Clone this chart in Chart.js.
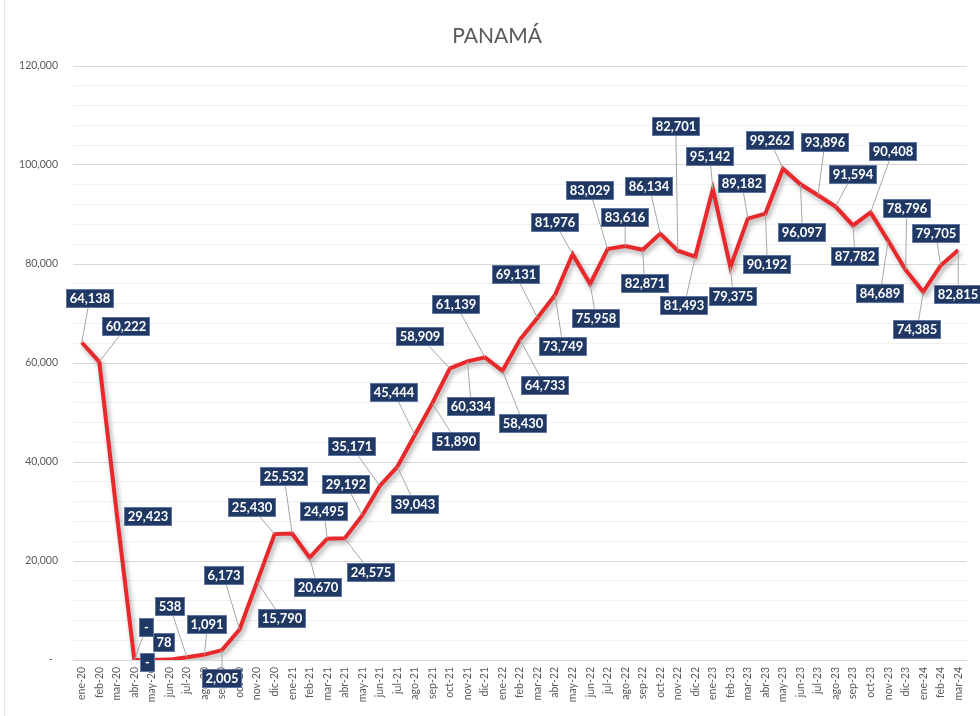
<!DOCTYPE html>
<html>
<head>
<meta charset="utf-8">
<script src="https://cdn.jsdelivr.net/npm/chart.js@4.4.1/dist/chart.umd.min.js"></script>
<style>
  html, body { margin: 0; padding: 0; background: #fff; }
  #wrap { width: 980px; height: 716px; position: relative; }
</style>
</head>
<body>
<div id="wrap"><canvas id="chart" width="980" height="716"></canvas></div>
<script>
const chartTitle = 'PANAMÁ'

const months = [
    'ene-20', 'feb-20', 'mar-20', 'abr-20', 'may-20', 'jun-20', 'jul-20', 'ago-20', 'sep-20', 'oct-20', 'nov-20', 'dic-20',
    'ene-21', 'feb-21', 'mar-21', 'abr-21', 'may-21', 'jun-21', 'jul-21', 'ago-21', 'sep-21', 'oct-21', 'nov-21', 'dic-21',
    'ene-22', 'feb-22', 'mar-22', 'abr-22', 'may-22', 'jun-22', 'jul-22', 'ago-22', 'sep-22', 'oct-22', 'nov-22', 'dic-22',
    'ene-23', 'feb-23', 'mar-23', 'abr-23', 'may-23', 'jun-23', 'jul-23', 'ago-23', 'sep-23', 'oct-23', 'nov-23', 'dic-23',
    'ene-24', 'feb-24', 'mar-24'
]

const visitors = [
    64138, 60222, 29423, 0, 0, 78, 538, 1091, 2005, 6173, 15790, 25430,
    25532, 20670, 24495, 24575, 29192, 35171, 39043, 45444, 51890, 58909, 60334, 61139,
    58430, 64733, 69131, 73749, 81976, 75958, 83029, 83616, 82871, 86134, 82701, 81493,
    95142, 79375, 89182, 90192, 99262, 96097, 93896, 91594, 87782, 90408, 84689, 78796,
    74385, 79705, 82815
]

const yMin = 0
const yMax = 120000
const yMinorStep = 4000
const yMajorStep = 20000

// where each value box sits, relative to its point (px)
const labelOffsets = [
    [8, -44], [27, -35], [31, 2], [12, -33], [-4, 2], [-5, -17], [-17, -51], [3, -30], [0, 28], [-16, -54], [25, 37], [-23, -27],
    [-8, -57], [8, 30], [-3, -27], [26, 34], [-16, -31], [-28, -39], [18, 38], [-21, -43], [24, 38], [-30, -32], [4, 45], [-29, -53],
    [21, 53], [25, 46], [-22, -43], [8, 52], [-18, -32], [6, 34], [-18, -59], [0, -29], [2, 34], [-11, -47], [-2, -124], [-11, 49],
    [-3, -33], [3, 29], [-6, -35], [2, 51], [-13, -28], [2, 48], [7, -53], [17, -32], [2, 31], [22, -61], [-8, 53], [1, -61],
    [-6, 38], [-5, -32], [0, 44]
]

const TEXT_GREY = '#595959'
const LINE_RED = '#E8282B'
const BOX_BLUE = '#203864'

function fmt(v) {
    return v === 0 ? '-' : v.toLocaleString('en-US')
}

const titlePlugin = {
    id: 'titleText',
    afterDraw(chart) {
        const ctx = chart.ctx
        ctx.save()
        ctx.font = '21px Lato'
        ctx.fillStyle = TEXT_GREY
        ctx.textAlign = 'center'
        ctx.textBaseline = 'middle'
        ctx.fillText(chartTitle, 497, 36)
        // faint chart border on the left
        ctx.strokeStyle = '#E6E6E6'
        ctx.lineWidth = 1
        ctx.beginPath()
        ctx.moveTo(4.5, 0)
        ctx.lineTo(4.5, 716)
        ctx.stroke()
        ctx.restore()
    }
}

const shadowPlugin = {
    id: 'lineShadow',
    beforeDatasetsDraw(chart) {
        const ctx = chart.ctx
        ctx.save()
        ctx.shadowColor = 'rgba(0,0,0,0.35)'
        ctx.shadowBlur = 5
        ctx.shadowOffsetX = 2
        ctx.shadowOffsetY = 3
    },
    afterDatasetsDraw(chart) {
        chart.ctx.restore()
    }
}

const boxLabels = {
    id: 'boxLabels',
    afterDraw(chart) {
        const ctx = chart.ctx
        const meta = chart.getDatasetMeta(0)
        ctx.save()
        ctx.font = 'bold 13px Lato'
        ctx.textAlign = 'center'
        ctx.textBaseline = 'middle'
        const boxes = []
        meta.data.forEach((pt, i) => {
            const txt = fmt(visitors[i])
            const w = Math.max(15, Math.round(ctx.measureText(txt).width) + 7)
            const h = 19
            const cx = pt.x + labelOffsets[i][0]
            const cy = pt.y + labelOffsets[i][1]
            boxes.push({txt, w, h, cx, cy, px: pt.x, py: pt.y})
        })
        // leader lines first
        ctx.strokeStyle = '#A6A6A6'
        ctx.lineWidth = 1
        for (let b of boxes) {
            const dx = b.px - b.cx
            const dy = b.py - b.cy
            const gx = Math.max(0, Math.abs(dx) - b.w / 2)
            const gy = Math.max(0, Math.abs(dy) - b.h / 2)
            if (Math.hypot(gx, gy) < 10) continue
            const t = Math.min((b.w / 2) / Math.abs(dx || 1e-6), (b.h / 2) / Math.abs(dy || 1e-6))
            ctx.beginPath()
            ctx.moveTo(b.cx + dx * t, b.cy + dy * t)
            ctx.lineTo(b.px, b.py)
            ctx.stroke()
        }
        for (let b of boxes) {
            const x0 = Math.round(b.cx - b.w / 2)
            const y0 = Math.round(b.cy - b.h / 2)
            ctx.fillStyle = BOX_BLUE
            ctx.fillRect(x0, y0, b.w, b.h)
            ctx.strokeStyle = 'rgba(140,160,200,0.6)'
            ctx.strokeRect(x0 + 0.5, y0 + 0.5, b.w - 1, b.h - 1)
            ctx.fillStyle = '#FFFFFF'
            ctx.fillText(b.txt, x0 + b.w / 2, y0 + b.h / 2 + 0.5)
        }
        ctx.restore()
    }
}

new Chart(document.getElementById('chart'), {
    type: 'line',
    data: {
        labels: months,
        datasets: [{
            label: chartTitle,
            data: visitors,
            borderColor: LINE_RED,
            borderWidth: 4,
            pointRadius: 0,
            tension: 0,
            fill: false
        }]
    },
    options: {
        responsive: false,
        animation: false,
        devicePixelRatio: 1,
        layout: { padding: { top: 66, left: 0, right: 13, bottom: 0 } },
        plugins: {
            legend: { display: false },
            title: { display: false },
            tooltip: { enabled: false }
        },
        scales: {
            x: {
                offset: true,
                grid: { display: false, drawTicks: false },
                border: { display: false },
                ticks: {
                    autoSkip: false,
                    maxRotation: 90,
                    minRotation: 90,
                    padding: 7,
                    color: TEXT_GREY,
                    font: { family: 'Lato', size: 10.5 }
                },
                afterFit(scale) { scale.height = 56 }
            },
            y: {
                min: yMin,
                max: yMax,
                border: { display: false },
                grid: {
                    drawTicks: false,
                    lineWidth: 1,
                    color: c => (c.tick && c.tick.value % yMajorStep === 0) ? '#D9D9D9' : '#F0F0F0'
                },
                ticks: {
                    stepSize: yMinorStep,
                    autoSkip: false,
                    padding: 15,
                    color: TEXT_GREY,
                    font: { family: 'Lato', size: 10.5 },
                    callback: v => v % yMajorStep === 0 ? (v === 0 ? '-  ' : v.toLocaleString('en-US')) : ''
                },
                afterFit(scale) { scale.width = 73 }
            }
        }
    },
    plugins: [titlePlugin, shadowPlugin, boxLabels]
})
</script>
</body>
</html>
